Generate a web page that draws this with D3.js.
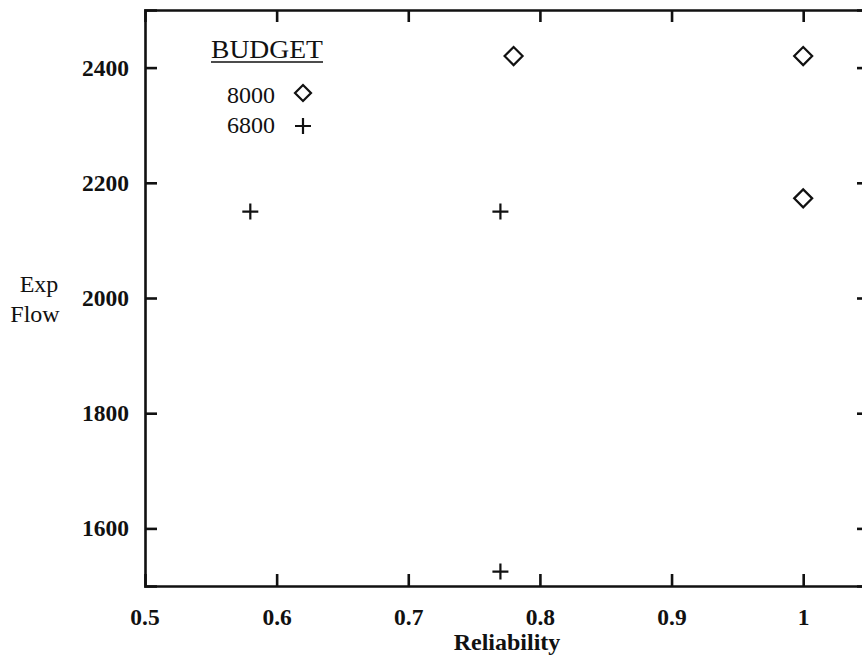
<!DOCTYPE html>
<html>
<head>
<meta charset="utf-8">
<script src="https://cdn.jsdelivr.net/npm/d3@7"></script>
<style>
  body { margin: 0; background: #fff; }
  svg { display: block; }
</style>
</head>
<body>
<svg id="chart"></svg>
<script>
// data
const budgets = ["8000", "6800"];
const reliability8000 = [0.78, 1.0, 1.0];
const flow8000 = [2420, 2420, 2173];
const reliability6800 = [0.58, 0.77, 0.77];
const flow6800 = [2150, 2150, 1525];
const xTicks = [0.5, 0.6, 0.7, 0.8, 0.9, 1];
const yTicks = [1600, 1800, 2000, 2200, 2400];

const W = 862, H = 659;
const margin = { top: 10, right: -7, bottom: 73, left: 145 };
const width = W - margin.left - margin.right;
const height = H - margin.top - margin.bottom;
const serif = "'Liberation Serif', 'Times New Roman', serif";

const svg = d3.select("#chart")
    .attr("width", W)
    .attr("height", H)
    .append("g")
    .attr("transform", `translate(${margin.left},${margin.top})`);

const x = d3.scaleLinear().domain([0.5, 1.05]).range([0, width]);
const y = d3.scaleLinear().domain([1500, 2500]).range([height, 0]);

// axes, ticks point inwards like the original
const fmt = d => d3.format("")(d);
const bottomAxis = svg.append("g")
    .attr("transform", `translate(0,${height})`)
    .call(d3.axisBottom(x).tickValues(xTicks.slice(1)).tickSize(-12).tickFormat(fmt));
const topAxis = svg.append("g")
    .call(d3.axisTop(x).tickValues(xTicks.slice(1)).tickSize(-12).tickFormat(""));
const leftAxis = svg.append("g")
    .call(d3.axisLeft(y).tickValues(yTicks).tickSize(-12).tickPadding(16).tickFormat(fmt));
const rightAxis = svg.append("g")
    .attr("transform", `translate(${width},0)`)
    .call(d3.axisRight(y).tickValues(yTicks).tickSize(-12).tickFormat(""));

[bottomAxis, topAxis, leftAxis, rightAxis].forEach(g => {
    g.select(".domain").attr("stroke", "#111").attr("stroke-width", 2.6);
    g.selectAll(".tick line").attr("stroke", "#111").attr("stroke-width", 2.6);
    g.selectAll(".tick text")
        .attr("fill", "#111")
        .style("font-family", serif)
        .style("font-weight", "bold")
        .style("font-size", "23.5px");
});
bottomAxis.selectAll(".tick text").attr("y", 39).attr("dy", 0);
// 0.5 label sits at the corner, no tick there
bottomAxis.append("text")
    .attr("x", x(0.5)).attr("y", 39)
    .attr("text-anchor", "middle")
    .attr("fill", "#111")
    .style("font-family", serif)
    .style("font-weight", "bold").style("font-size", "23.5px")
    .text("0.5");

// axis titles
svg.append("text")
    .attr("x", width / 2).attr("y", height + 64)
    .attr("text-anchor", "middle")
    .attr("fill", "#111")
    .style("font-family", serif)
    .style("font-weight", "bold").style("font-size", "24px")
    .text("Reliability");
["Exp", "Flow"].forEach((t, i) => {
    svg.append("text")
        .attr("x", i === 0 ? -106 : -110).attr("y", 282 + i * 30)
        .attr("text-anchor", "middle")
        .attr("fill", "#111")
        .style("font-family", serif)
        .style("font-size", "24px")
        .text(t);
});

// markers
const diamond = (cx, cy, r) => `M${cx},${cy - r}L${cx + r},${cy}L${cx},${cy + r}L${cx - r},${cy}Z`;
const plus = (cx, cy, r) => `M${cx - r},${cy}H${cx + r}M${cx},${cy - r}V${cy + r}`;

svg.selectAll(".d8000")
    .data(reliability8000.map((r, i) => [r, flow8000[i]]))
    .join("path")
    .attr("class", "d8000")
    .attr("d", d => diamond(x(d[0]), y(d[1]), 9))
    .attr("fill", "none").attr("stroke", "#111").attr("stroke-width", 2.2);

svg.selectAll(".p6800")
    .data(reliability6800.map((r, i) => [r, flow6800[i]]))
    .join("path")
    .attr("class", "p6800")
    .attr("d", d => plus(x(d[0]), y(d[1]), 8))
    .attr("fill", "none").attr("stroke", "#111").attr("stroke-width", 2.2);

// legend
const leg = svg.append("g").attr("transform", "translate(66,48)");
leg.append("text")
    .attr("x", 0).attr("y", 0)
    .attr("fill", "#111")
    .attr("textLength", 112).attr("lengthAdjust", "spacingAndGlyphs")
    .style("font-family", serif)
    .style("font-size", "25px")
    .text("BUDGET");
leg.append("line")
    .attr("x1", 0).attr("x2", 112).attr("y1", 4).attr("y2", 4)
    .attr("stroke", "#111").attr("stroke-width", 1.6);
budgets.forEach((b, i) => {
    const ly = 45 + i * 30;
    leg.append("text")
        .attr("x", 64).attr("y", ly)
        .attr("text-anchor", "end")
        .attr("fill", "#111")
        .style("font-family", serif)
        .style("font-size", "24px")
        .text(b);
    leg.append("path")
        .attr("d", i === 0 ? diamond(92, ly - 10, 8) : plus(92, ly - 7, 8))
        .attr("fill", "none").attr("stroke", "#111").attr("stroke-width", 2.2);
});
</script>
</body>
</html>
